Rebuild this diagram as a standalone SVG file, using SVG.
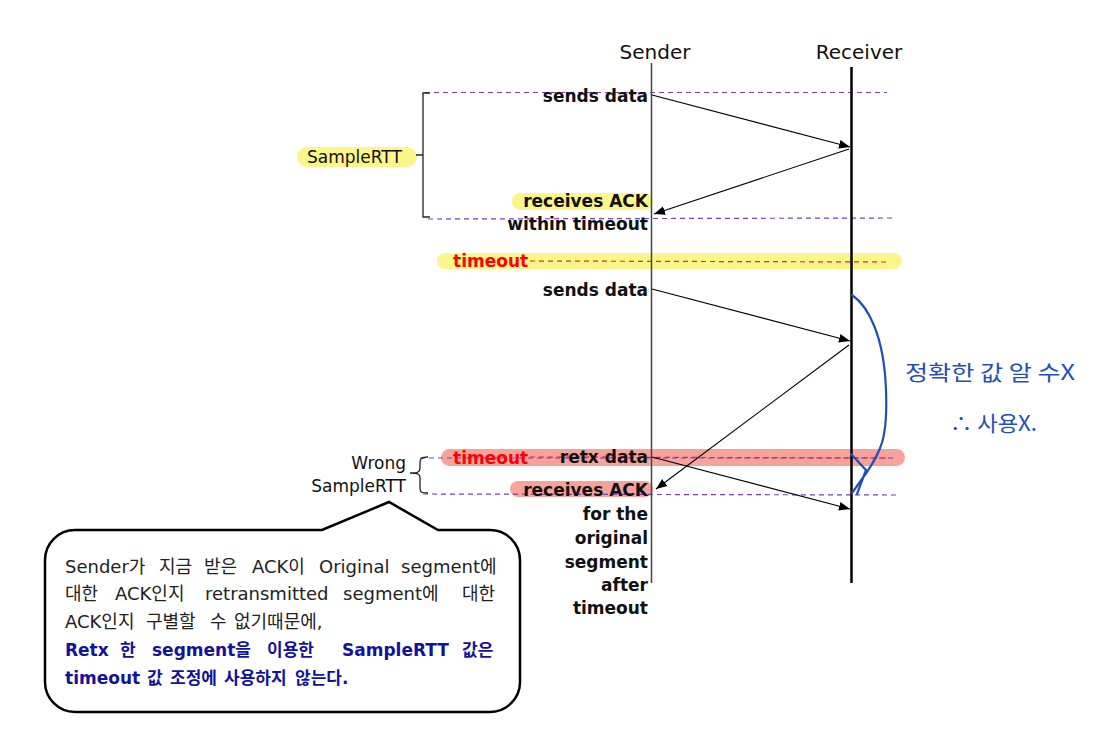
<svg xmlns="http://www.w3.org/2000/svg" width="1100" height="737" viewBox="0 0 1100 737">
<style>
.lbl{font-family:"DejaVu Sans","Liberation Sans",sans-serif;font-size:17px;font-weight:bold;fill:#111;text-anchor:end}
.red{font-family:"DejaVu Sans","Liberation Sans",sans-serif;font-size:17px;font-weight:bold;fill:#ff0000}
.hdr{font-family:"DejaVu Sans","Liberation Sans",sans-serif;font-size:20px;fill:#111;text-anchor:middle}
.reg{font-family:"DejaVu Sans","Liberation Sans",sans-serif;font-size:17px;fill:#111}
.dash{stroke:#7a3fc0;stroke-width:1.2;stroke-dasharray:5,4;fill:none}
.rdash{stroke:#ff2020;stroke-width:1.2;stroke-dasharray:5,4;fill:none}
.arr{stroke:#000;stroke-width:1.1;fill:none;marker-end:url(#ah)}
.yel{fill:#fbf689}
.sal{fill:#f5a39b}
.ko{font-family:"DejaVu Sans","Noto Sans CJK KR",sans-serif;font-size:18px;fill:#222}
.kob{font-family:"DejaVu Sans","Noto Sans CJK KR",sans-serif;font-size:17px;font-weight:bold;fill:#12129c}
.hand{font-family:"Noto Sans CJK KR",sans-serif;fill:#1f4fb8;font-size:21px}
</style>
<defs>
<marker id="ah" viewBox="0 0 10 10" refX="10" refY="5" markerWidth="11" markerHeight="11" markerUnits="userSpaceOnUse" orient="auto">
<path d="M0,1 L10,5 L0,9 Z" fill="#000"/>
</marker>
</defs>
<rect width="1100" height="737" fill="#fff"/>

<g id="highlights">
<rect class="yel" x="297" y="147" width="120" height="20" rx="10"/>
<rect class="yel" x="512" y="193" width="141" height="17" rx="8.5"/>
<rect class="yel" x="437" y="253" width="465" height="16" rx="8"/>
<rect class="sal" x="441" y="449" width="464" height="17" rx="8.5"/>
<rect class="sal" x="510" y="481" width="143" height="16" rx="8"/>
</g>

<g id="guides">
<line class="dash" x1="425" y1="92.5" x2="887" y2="92.5"/>
<line class="dash" x1="428" y1="219" x2="892" y2="218"/>
<line class="rdash" x1="530" y1="261" x2="890" y2="262"/>
<line class="dash" x1="420" y1="458" x2="895" y2="458"/>
<line class="rdash" x1="530" y1="457" x2="890" y2="458"/>
<line class="dash" x1="423" y1="494" x2="897" y2="495"/>
</g>

<g id="lifelines">
<g id="sender"><text class="hdr" x="655" y="59">Sender</text><line x1="651.5" y1="63" x2="651.5" y2="583" stroke="#444" stroke-width="1.5"/></g>
<g id="receiver"><text class="hdr" x="859" y="59">Receiver</text><line x1="851.5" y1="67" x2="851.5" y2="583" stroke="#000" stroke-width="2.5"/></g>
</g>

<g id="connectors">
<line class="arr" x1="652" y1="95" x2="850" y2="147"/>
<line class="arr" x1="849" y1="149" x2="654" y2="214"/>
<line class="arr" x1="652" y1="289" x2="850" y2="341"/>
<line class="arr" x1="849" y1="345" x2="656" y2="489"/>
<line class="arr" x1="652" y1="457" x2="850" y2="509"/>
</g>

<g id="labels">
<text class="lbl" x="648" y="102">sends data</text>
<text class="lbl" x="648" y="207">receives ACK</text>
<text class="lbl" x="648" y="230">within timeout</text>
<text class="red" x="453" y="267">timeout</text>
<text class="lbl" x="648" y="296">sends data</text>
<text class="red" x="453" y="464">timeout</text>
<text class="lbl" x="648" y="463">retx data</text>
<text class="lbl" x="648" y="496">receives ACK</text>
<text class="lbl" x="648" y="520">for the</text>
<text class="lbl" x="648" y="544">original</text>
<text class="lbl" x="648" y="568">segment</text>
<text class="lbl" x="648" y="591">after</text>
<text class="lbl" x="648" y="614">timeout</text>
</g>

<g id="samplertt">
<text class="reg" x="307" y="163">SampleRTT</text>
<path d="M430,93 L423,93 L423,217 L430,217 M416,155 L423,155" stroke="#222" stroke-width="1.3" fill="none"/>
</g>

<g id="wrong-samplertt">
<text class="reg" x="406" y="469" text-anchor="end">Wrong</text>
<text class="reg" x="406" y="492" text-anchor="end">SampleRTT</text>
<path d="M428,457 C421,457 420,459 420,463 L420,468 C420,472 418,473 410,473 C418,473 420,474 420,478 L420,488 C420,492 421,493 428,493" stroke="#222" stroke-width="1.3" fill="none"/>
</g>

<g id="callout">
<path d="M75,530 L322,530 L389,502 L438,530 L490,530 A30,30 0 0 1 520,560 L520,682 A30,30 0 0 1 490,712 L75,712 A30,30 0 0 1 45,682 L45,560 A30,30 0 0 1 75,530 Z" fill="#fff" stroke="#000" stroke-width="2.5"/>
<text class="ko" y="573"><tspan x="65">Sender가</tspan><tspan x="159">지금</tspan><tspan x="204">받은</tspan><tspan x="252">ACK이</tspan><tspan x="319">Original</tspan><tspan x="401">segment에</tspan></text>
<text class="ko" y="600"><tspan x="65">대한</tspan><tspan x="115">ACK인지</tspan><tspan x="205">retransmitted</tspan><tspan x="343">segment에</tspan><tspan x="462">대한</tspan></text>
<text class="ko" y="628"><tspan x="65">ACK인지</tspan><tspan x="146">구별할</tspan><tspan x="210">수</tspan><tspan x="234">없기때문에,</tspan></text>
<text class="kob" y="656"><tspan x="65">Retx</tspan><tspan x="120">한</tspan><tspan x="152">segment을</tspan><tspan x="267">이용한</tspan><tspan x="342">SampleRTT</tspan><tspan x="462">값은</tspan></text>
<text class="kob" y="684"><tspan x="65">timeout</tspan><tspan x="147">값</tspan><tspan x="170">조정에</tspan><tspan x="224">사용하지</tspan><tspan x="295">않는다.</tspan></text>
</g>

<g id="annotation">
<path d="M852,295 C868,306 884,335 886,390 C888,440 880,452 867,472 L852,493 M851,454 L866,470 L857,494" stroke="#1f4fb8" stroke-width="2.2" fill="none" stroke-linecap="round" stroke-linejoin="round"/>
<text class="hand" x="905" y="380" textLength="170" lengthAdjust="spacingAndGlyphs">정확한 값 알 수X</text>
<text class="hand" x="950" y="431" textLength="87" lengthAdjust="spacingAndGlyphs">∴ 사용X.</text>
</g>
</svg>
